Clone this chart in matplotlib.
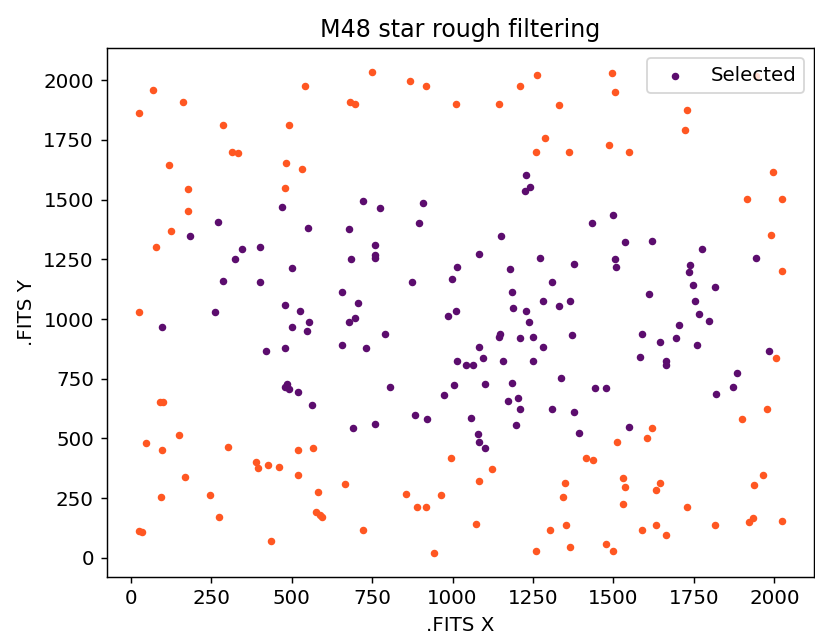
import matplotlib.pyplot as plt
import numpy as np

# stars that passed the rough cut (purple)
sel_x = [470, 270, 551, 186, 1229, 1242, 1225, 723, 776, 909, 896, 678, 1152, 1500, 1432,
         346, 403, 324, 500, 288, 403, 479, 527, 262, 554, 501, 97, 549, 479, 422, 487, 479, 493, 520, 563,
         759, 759, 759, 684, 1083, 1273, 1015, 1179, 873, 998, 1308, 657, 1185, 706, 1282, 1331, 1366,
         1189, 1229, 1011, 985, 697, 678, 1237, 790, 1148, 1144, 1210, 1251, 657, 732, 1083, 1281,
         1015, 1042, 1065, 1096, 1158, 1251, 1336, 806, 1006, 1100, 1185, 975, 1171, 1202,
         1535, 1620, 1774, 1379, 1504, 1508, 1738, 1735, 1943, 1748, 1814, 1610, 1752, 1766, 1797,
         1704, 1588, 1370, 1695, 1645, 1761, 1584, 1664, 1664, 1983, 1885, 1872, 1442, 1477, 1819,
         1210, 1308, 692, 759, 882, 922, 1056, 1078, 1083, 1100, 1198, 1379, 1393, 1547]
sel_y = [1471, 1406, 1381, 1349, 1603, 1554, 1536, 1495, 1466, 1484, 1400, 1377, 1349, 1435, 1400,
         1292, 1303, 1250, 1214, 1160, 1154, 1058, 1035, 1028, 986, 968, 968, 950, 879, 866, 727, 716, 709, 693, 640,
         1310, 1268, 1254, 1250, 1274, 1256, 1219, 1208, 1154, 1166, 1154, 1112, 1112, 1069, 1076, 1053, 1076,
         1046, 1035, 1035, 1011, 1004, 986, 986, 939, 939, 926, 920, 926, 890, 879, 884, 884,
         824, 806, 806, 836, 824, 824, 752, 716, 723, 728, 734, 681, 656, 669,
         1322, 1328, 1292, 1232, 1250, 1219, 1227, 1196, 1256, 1141, 1136, 1106, 1076, 1022, 991,
         975, 939, 932, 920, 902, 890, 843, 824, 806, 866, 776, 716, 710, 710, 687,
         622, 622, 544, 562, 597, 580, 585, 520, 484, 460, 555, 610, 524, 549]

# stars that were rejected (orange)
rej_x = [71, 27, 164, 541, 288, 492, 314, 333, 119, 483, 531, 177, 479, 177, 124,
         749, 869, 917, 682, 697, 1011, 1144, 1210, 1264, 1330, 1287, 1260, 1362,
         1495, 1504, 1730, 1721, 1486, 1547, 1996, 1916, 2023, 1988, 1944,
         80, 27, 91, 101, 2023, 2004,
         49, 150, 97, 301, 520, 568, 390, 396, 426, 461, 520, 169, 93, 248, 581, 275, 575, 588, 594, 25, 35, 435,
         994, 1122, 665, 1083, 857, 963, 891, 917, 723, 1073, 944, 1260, 1304,
         1349, 1343, 1353, 1366,
         1978, 1898, 1620, 1605, 1512, 1415, 1438, 1531, 1535, 1646, 1632, 1965, 1938, 1531, 1730,
         1920, 1934, 2023, 1814, 1588, 1632, 1663, 1477, 1500]
rej_y = [1959, 1861, 1909, 1975, 1812, 1812, 1699, 1694, 1646, 1652, 1627, 1544, 1549, 1454, 1370,
         2034, 1998, 1975, 1909, 1902, 1902, 1902, 1975, 2022, 1897, 1759, 1699, 1699,
         2029, 1951, 1873, 1790, 1730, 1699, 1616, 1502, 1502, 1352, 2016,
         1303, 1028, 653, 653, 1202, 836,
         482, 513, 453, 466, 453, 459, 401, 375, 388, 382, 346, 339, 256, 263, 274, 172, 190, 178, 172, 113, 107, 71,
         417, 370, 310, 321, 268, 263, 214, 214, 118, 142, 22, 28, 118,
         315, 256, 136, 46,
         622, 580, 544, 502, 484, 418, 411, 334, 297, 315, 285, 346, 305, 225, 214,
         149, 167, 154, 136, 118, 136, 94, 58, 28]

plt.rcParams['font.size'] = 11

fig = plt.figure(figsize=(815 / 130, 640 / 130), dpi=130)
ax = fig.add_axes([0.1307, 0.099, 0.868, 0.826])

ax.scatter(rej_x, rej_y, s=10, color='#ff5722')
ax.scatter(sel_x, sel_y, s=10, color='#5c0d6e', label='Selected')

ax.set_title('M48 star rough filtering')
ax.set_xlabel('.FITS X')
ax.set_ylabel('.FITS Y')
ax.legend(loc='upper right')

plt.savefig('out.png', dpi=130)
